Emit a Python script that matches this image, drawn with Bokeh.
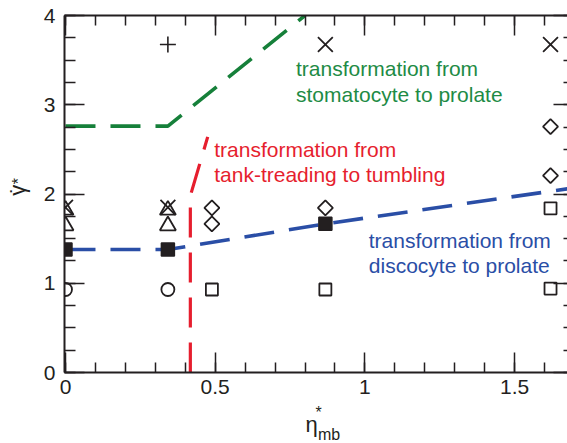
import math
from bokeh.plotting import figure
from bokeh.layouts import row, column
from bokeh.models import (LinearAxis, SingleIntervalTicker, Range1d,
                          ColumnDataSource, CustomLabelingPolicy)
from bokeh.core.properties import value
from bokeh.embed import file_html
from bokeh.resources import INLINE

# ---- simulation points (eta_mb*, gamma_dot*) grouped by observed shape ----
circle_x = [0.0, 0.342]
circle_y = [0.93, 0.93]

open_square_x = [0.489, 0.868, 1.62, 1.62]
open_square_y = [0.93, 0.93, 0.94, 1.84]

filled_square_x = [0.0, 0.342, 0.868]
filled_square_y = [1.378, 1.378, 1.666]

triangle_x = [0.0, 0.0, 0.342, 0.342]
triangle_y = [1.82, 1.645, 1.82, 1.645]

cross_x = [0.0, 0.342, 0.868, 1.62]
cross_y = [1.85, 1.85, 3.675, 3.675]

diamond_x = [0.489, 0.489, 0.868, 1.62, 1.62]
diamond_y = [1.845, 1.666, 1.845, 2.756, 2.207]

plus_x = [0.342]
plus_y = [3.675]

# ---- phase boundaries ----
stomatocyte_x = [0.0, 0.342, 0.80]
stomatocyte_y = [2.76, 2.76, 4.0]

tumbling_x = [0.417, 0.417, 0.475]
tumbling_y = [0.0, 1.98, 2.64]

discocyte_x = [0.0, 0.342, 0.868, 1.68]
discocyte_y = [1.378, 1.378, 1.666, 2.06]

# ---- annotation lines ----
green_lines = ["transformation from", "stomatocyte to prolate"]
red_lines = ["transformation from", "tank-treading to tumbling"]
blue_lines = ["transformation from", "discocyte to prolate"]

INK = "#231f20"
GREEN_LINE = "#16803a"
GREEN_TEXT = "#1e8b45"
RED = "#e61e2e"
BLUE = "#2a4ea6"
FONT = "Liberation Sans"

# text glyphs land this fraction of an em below the requested baseline
BASELINE_FIX = 0.38

W, H = 567, 443
LEFT_STRIP = 40          # column holding the y-axis title
MAIN_H = 400             # main panel height; the x-axis title sits below it
Y_PX_PER_UNIT = 357 / 4.0

p = figure(
    width=W - LEFT_STRIP, height=MAIN_H,
    x_range=Range1d(-0.0033, 1.6767), y_range=Range1d(0, 4),
    output_backend="svg", toolbar_location=None,
    min_border_left=63 - LEFT_STRIP, min_border_right=0,
    min_border_top=15, min_border_bottom=MAIN_H - 372,
)
p.outline_line_color = None
p.grid.visible = False
p.background_fill_color = "white"
p.border_fill_color = "white"

xt = SingleIntervalTicker(interval=0.5, num_minor_ticks=5)
yt = SingleIntervalTicker(interval=1, num_minor_ticks=4)
p.xaxis.ticker = xt
p.yaxis.ticker = yt

# mirrored tick marks on the top and right edges, without labels
no_labels = CustomLabelingPolicy(code="for (const i of indices) { indices.unset(i) }\nreturn indices")
top = LinearAxis(ticker=xt, major_label_policy=no_labels)
right = LinearAxis(ticker=yt, major_label_policy=no_labels)
p.add_layout(top, "above")
p.add_layout(right, "right")

for ax in p.xaxis + p.yaxis:
    ax.axis_line_color = INK
    ax.axis_line_width = 2
    ax.major_tick_line_color = INK
    ax.minor_tick_line_color = INK
    ax.major_tick_line_width = 1.5
    ax.minor_tick_line_width = 1.5
    ax.major_tick_out = 0
    ax.minor_tick_out = 0
    ax.major_tick_in = 20
    ax.minor_tick_in = 10
    ax.major_label_text_font = FONT
    ax.major_label_text_font_size = "21px"
    ax.major_label_text_color = INK

p.below[0].major_label_standoff = 7
p.left[0].major_label_standoff = 9
p.left[0].minor_tick_in = 11

for ax in (top, right):
    ax.major_label_text_font_size = "0px"
    ax.major_label_standoff = 0
right.axis_line_color = None
right.major_tick_in = 14
right.minor_tick_in = 4

# boundaries
dash = "30 15"
p.line(stomatocyte_x, stomatocyte_y, line_color=GREEN_LINE, line_width=3.6, line_dash=dash)
p.line(tumbling_x, tumbling_y, line_color=RED, line_width=3.2, line_dash=dash)
p.line(discocyte_x, discocyte_y, line_color=BLUE, line_width=3.6, line_dash=dash)

# markers
p.scatter(circle_x, circle_y, marker="circle", size=13, fill_color=None,
          line_color=INK, line_width=1.8)
p.scatter(open_square_x, open_square_y, marker="square", size=12, fill_color=None,
          line_color=INK, line_width=1.8)
p.scatter(filled_square_x, filled_square_y, marker="square", size=13, fill_color=INK,
          line_color=INK, line_width=1.5)
p.scatter(triangle_x, triangle_y, marker="triangle", size=16, fill_color=None,
          line_color=INK, line_width=1.8)
p.scatter(cross_x, cross_y, marker="x", size=21, line_color=INK, line_width=1.8)
p.scatter(diamond_x, diamond_y, marker="square", angle=math.pi / 4, size=10.6,
          fill_color=None, line_color=INK, line_width=1.8)
p.scatter(plus_x, plus_y, marker="cross", size=16, line_color=INK, line_width=1.6)

# annotations (baselines given in data units)
ANNOT_PX = 21
lift = BASELINE_FIX * ANNOT_PX / Y_PX_PER_UNIT

def add_block(fig, lines, x0, y_first, y_second, color):
    src = ColumnDataSource(dict(x=[x0, x0], y=[y_first + lift, y_second + lift], t=lines))
    fig.text(x="x", y="y", text="t", source=src, text_color=color,
             text_font=value(FONT), text_font_size=value(f"{ANNOT_PX}px"),
             text_align="left", text_baseline="alphabetic")

add_block(p, green_lines, 0.77, 3.3165, 3.0286, GREEN_TEXT)
add_block(p, red_lines, 0.4967, 2.412, 2.132, RED)
add_block(p, blue_lines, 1.013, 1.386, 1.106, BLUE)


# ---- axis titles: small strips whose ranges are in page pixels ----
def strip(width, height, x0, x1, y0, y1):
    f = figure(width=width, height=height,
               x_range=Range1d(x0, x1), y_range=Range1d(y1, y0),
               output_backend="svg", toolbar_location=None,
               x_axis_location=None, y_axis_location=None,
               min_border_left=0, min_border_right=0,
               min_border_top=0, min_border_bottom=0)
    f.outline_line_color = None
    f.grid.visible = False
    f.background_fill_color = "white"
    f.border_fill_color = "white"
    return f

def put(fig, px, py, text, size, align="left", rotated=False):
    shift = BASELINE_FIX * size
    if rotated:
        px, angle = px - shift, math.pi / 2
    else:
        py, angle = py - shift, 0.0
    fig.text(x=[px], y=[py], text=[text], angle=angle, text_color=INK,
             text_font=value(FONT), text_font_size=value(f"{size}px"),
             text_align=align, text_baseline="alphabetic")

ylab = strip(LEFT_STRIP, MAIN_H, 0, LEFT_STRIP, 0, MAIN_H)
put(ylab, 25.5, 202, "γ", 22, rotated=True)
put(ylab, 26, 196, "˙", 22, align="center", rotated=True)
put(ylab, 24.5, 189, "*", 16, rotated=True)

xlab = strip(W, H - MAIN_H, 0, W, MAIN_H, H)
put(xlab, 305, 432.5, "η", 22)
put(xlab, 317.5, 440, "mb", 16)
put(xlab, 318, 418, "*", 16, align="center")

layout = column(row(ylab, p, spacing=0), xlab, spacing=0)

open("out.html", "w").write(file_html(layout, INLINE))
